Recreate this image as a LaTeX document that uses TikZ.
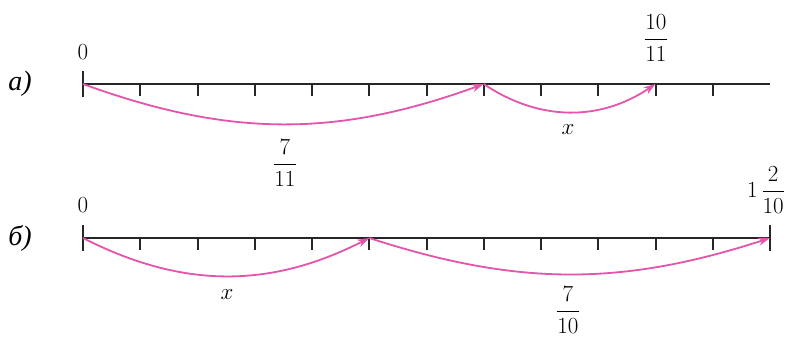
\documentclass[tikz,border=0pt]{standalone}
\usepackage{fix-cm}
\usepackage{amsmath}
\usepackage{fontspec}
\newfontfamily\cyrfont{Liberation Serif}
\usetikzlibrary{arrows.meta}
\definecolor{arcpink}{RGB}{228,84,170}
\begin{document}
\begin{tikzpicture}[x=1pt,y=-1pt,
  axis/.style={line width=2.6pt,black!85},
  tickmark/.style={line width=2pt,black!85},
  arc/.style={line width=1.8pt,arcpink,-{Stealth[length=12pt,width=8pt]}},
  lbl/.style={font=\fontsize{23}{27}\selectfont,inner sep=0pt},
  part/.style={font=\cyrfont\itshape\fontsize{28}{30}\selectfont,inner sep=0pt}]
\useasboundingbox (0,0) rectangle (797,338);
% number lines
\foreach \i in {0,...,12} {\coordinate (a\i) at ({83+57.25*\i},84);}
\foreach \i in {0,...,12} {\coordinate (b\i) at ({83+57.25*\i},238);}
\draw[axis] (a0) -- (a12);
\draw[tickmark] ([yshift=-13]a0) -- ([yshift=13]a0);
\foreach \i in {1,...,11} {\draw[tickmark] (a\i) -- ([yshift=-12]a\i);}
\draw[axis] (b0) -- (b12);
\draw[tickmark] ([yshift=-13]b0) -- ([yshift=13]b0);
\draw[tickmark] ([yshift=-13]b12) -- ([yshift=13]b12);
\foreach \i in {1,...,11} {\draw[tickmark] (b\i) -- ([yshift=-12]b\i);}
% arcs
\draw[arc] (a0) to[bend right=20] (a7);
\draw[arc] (a7) to[bend right=34] (a10);
\draw[arc] (b0) to[bend right=27] (b5);
\draw[arc] (b5) to[bend right=18] (b12);
% labels
\node[part] (pa) at (20,84) {а)};
\node[part] (pb) at (20,238) {б)};
\node[lbl] (za) at (83,52) {$0$};
\node[lbl] (ta) at (656,38) {$\dfrac{10}{11}$};
\node[lbl] (xa) at (568,130) {$x$};
\node[lbl] (sa) at (285,163) {$\dfrac{7}{11}$};
\node[lbl] (zb) at (83,205) {$0$};
\node[lbl] (mb) at (766,190) {$1\,\dfrac{2}{10}$};
\node[lbl] (xb) at (227,295) {$x$};
\node[lbl] (sb) at (568,310) {$\dfrac{7}{10}$};
\end{tikzpicture}
\end{document}
